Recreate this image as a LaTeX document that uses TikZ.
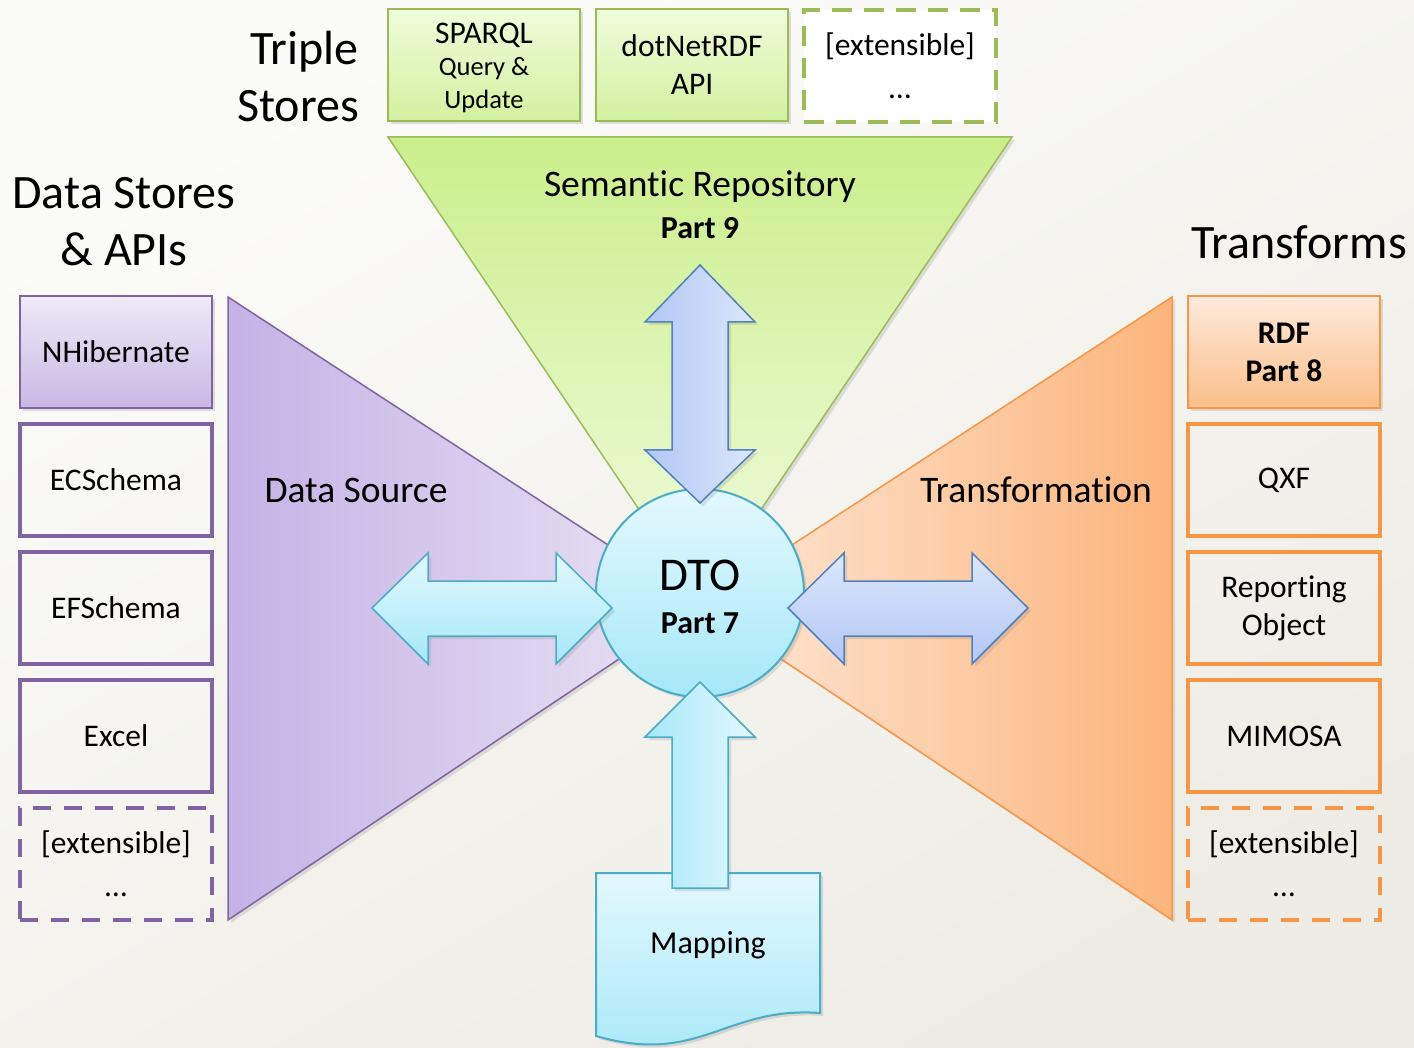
\documentclass[tikz,border=0pt]{standalone}
\usepackage{fontspec}
\setmainfont{Carlito}[Ligatures=NoCommon]
\usetikzlibrary{shadows}
\definecolor{bgA}{HTML}{FBFBF9}
\definecolor{bgB}{HTML}{EEECE5}
\definecolor{purpB}{HTML}{8064A2}
\definecolor{purpL}{HTML}{C5B2E6}
\definecolor{purpR}{HTML}{EAE3F4}
\definecolor{purpBoxT}{HTML}{EFEAF7}
\definecolor{purpBoxB}{HTML}{C8B7E5}
\definecolor{grnB}{HTML}{9BBB59}
\definecolor{grnT}{HTML}{CBEE8C}
\definecolor{grnBt}{HTML}{F0FCDF}
\definecolor{grnBoxT}{HTML}{F0FCDC}
\definecolor{grnBoxB}{HTML}{D2F1A0}
\definecolor{orB}{HTML}{F79646}
\definecolor{orL}{HTML}{FEE8D8}
\definecolor{orR}{HTML}{FCB47C}
\definecolor{orBoxT}{HTML}{FEEADB}
\definecolor{orBoxB}{HTML}{FBBF8A}
\definecolor{cyB}{HTML}{4BACC6}
\definecolor{cyT}{HTML}{E3F8FD}
\definecolor{cyBt}{HTML}{A6E8F9}
\definecolor{blB}{HTML}{4F81BD}
\definecolor{blT}{HTML}{DDE7FD}
\definecolor{blBt}{HTML}{B2C7F5}
\tikzset{
  shad/.style={drop shadow={opacity=0.22, shadow xshift=3pt, shadow yshift=-3pt}},
  stbox/.style={minimum width=192pt, minimum height=112pt, inner sep=0pt, align=center,
    font=\fontsize{31.5}{38}\selectfont},
  hdr/.style={font=\fontsize{48}{57}\selectfont, inner sep=0pt},
  mid/.style={font=\fontsize{37.5}{42}\selectfont, inner sep=0pt},
  partlbl/.style={font=\fontsize{32}{38}\selectfont\bfseries, inner sep=0pt},
  small/.style={font=\fontsize{26.5}{30}\selectfont, inner sep=0pt},
}
\begin{document}
\begin{tikzpicture}[x=1pt,y=-1pt]
\useasboundingbox (0,0) rectangle (1414,1048);
\shade[top color=bgA, bottom color=bgB, shading angle=30] (0,0) rectangle (1414,1048);

% headers
\node[hdr, anchor=east, align=right] (triple) at (359,77) {Triple\\Stores};
\node[hdr, align=center] (dstores) at (124,222) {Data Stores\\\& APIs};
\node[hdr] (transforms) at (1299,242) {Transforms};

% big triangles
\path[shad, draw=grnB, line width=1.5pt, top color=grnT, bottom color=grnBt]
  (388,137) -- (1012,137) -- (700,600) -- cycle;
\path[shad, draw=purpB, line width=1.5pt, left color=purpL, right color=purpR]
  (228,297) -- (700,605) -- (228,920) -- cycle;
\path[shad, draw=orB, line width=1.5pt, left color=orL, right color=orR]
  (1172,297) -- (700,605) -- (1172,920) -- cycle;

\node[mid] (semrep) at (700,187) {Semantic Repository};
\node[partlbl] (part9) at (700,228) {Part 9};
\node[mid] (dsrc) at (356,490) {Data Source};
\node[mid] (transf) at (1036,490) {Transformation};

% top boxes
\node[stbox, shad, draw=grnB, line width=1.5pt, top color=grnBoxT, bottom color=grnBoxB] (sparql) at (484,65) {};
\node[font=\fontsize{31.5}{38}\selectfont, inner sep=0pt] (sparqlA) at (484,35) {SPARQL};
\node[small] (sparqlB) at (484,69) {Query \&};
\node[small] (sparqlC) at (484,101) {Update};
\node[stbox, shad, draw=grnB, line width=1.5pt, top color=grnBoxT, bottom color=grnBoxB] (dotnet) at (692,65)
  {dotNetRDF\\API};
\node[stbox, draw=grnB, line width=4pt, dash pattern=on 20pt off 12pt, fill=white] (extT) at (900,66)
  {[extensible]\\[5pt]…};

% left boxes
\node[stbox, shad, draw=purpB, line width=2pt, top color=purpBoxT, bottom color=purpBoxB] (nhib) at (116,352) {NHibernate};
\node[stbox, draw=purpB, line width=4pt] (ecs) at (116,480) {ECSchema};
\node[stbox, draw=purpB, line width=4pt] (efs) at (116,608) {EFSchema};
\node[stbox, draw=purpB, line width=4pt] (excel) at (116,736) {Excel};
\node[stbox, draw=purpB, line width=4pt, dash pattern=on 18pt off 13pt] (extL) at (116,864) {[extensible]\\[5pt]…};

% right boxes
\node[stbox, shad, draw=orB, line width=2pt, top color=orBoxT, bottom color=orBoxB] (rdf) at (1284,352)
  {\bfseries RDF\\\bfseries Part 8};
\node[stbox, draw=orB, line width=4pt] (qxf) at (1284,480) {QXF};
\node[stbox, draw=orB, line width=4pt] (repobj) at (1284,608) {Reporting\\Object};
\node[stbox, draw=orB, line width=4pt] (mimosa) at (1284,736) {MIMOSA};
\node[stbox, draw=orB, line width=4pt, dash pattern=on 18pt off 13pt] (extR) at (1284,864) {[extensible]\\[5pt]…};

% DTO circle
\node[circle, shad, draw=cyB, line width=2pt, top color=cyT, bottom color=cyBt, minimum size=208pt, inner sep=0pt] (dto) at (700,593) {};
\node[font=\fontsize{47}{52}\selectfont, inner sep=0pt] (dtolbl) at (700,575) {DTO};
\node[partlbl] (part7) at (700,623) {Part 7};

% Mapping document
\path[shad, draw=cyB, line width=2pt, top color=cyT, bottom color=cyBt]
  (596,873) -- (820,873) -- (820,1013) .. controls (725,1006) and (700,1066) .. (596,1036) -- cycle;
\node[font=\fontsize{32}{36}\selectfont, inner sep=0pt] (mapping) at (708,945) {Mapping};

% block arrows
\path[shad, draw=blB, line width=1.5pt, left color=blBt, right color=blT]
  (700,265) -- (755,322) -- (728,322) -- (728,450) -- (755,450) -- (700,503)
  -- (645,450) -- (672,450) -- (672,322) -- (645,322) -- cycle;
\path[shad, draw=cyB, line width=1.5pt, top color=cyT, bottom color=cyBt]
  (372,608) -- (428,553) -- (428,581) -- (556,581) -- (556,553) -- (612,608)
  -- (556,664) -- (556,636) -- (428,636) -- (428,664) -- cycle;
\path[shad, draw=blB, line width=1.5pt, top color=blT, bottom color=blBt]
  (788,608) -- (844,553) -- (844,581) -- (972,581) -- (972,553) -- (1028,608)
  -- (972,664) -- (972,636) -- (844,636) -- (844,664) -- cycle;
\path[shad, draw=cyB, line width=1.5pt, left color=cyBt, right color=cyT]
  (700,682) -- (755,737) -- (728,737) -- (728,888) -- (672,888) -- (672,737) -- (645,737) -- cycle;
\end{tikzpicture}
\end{document}
